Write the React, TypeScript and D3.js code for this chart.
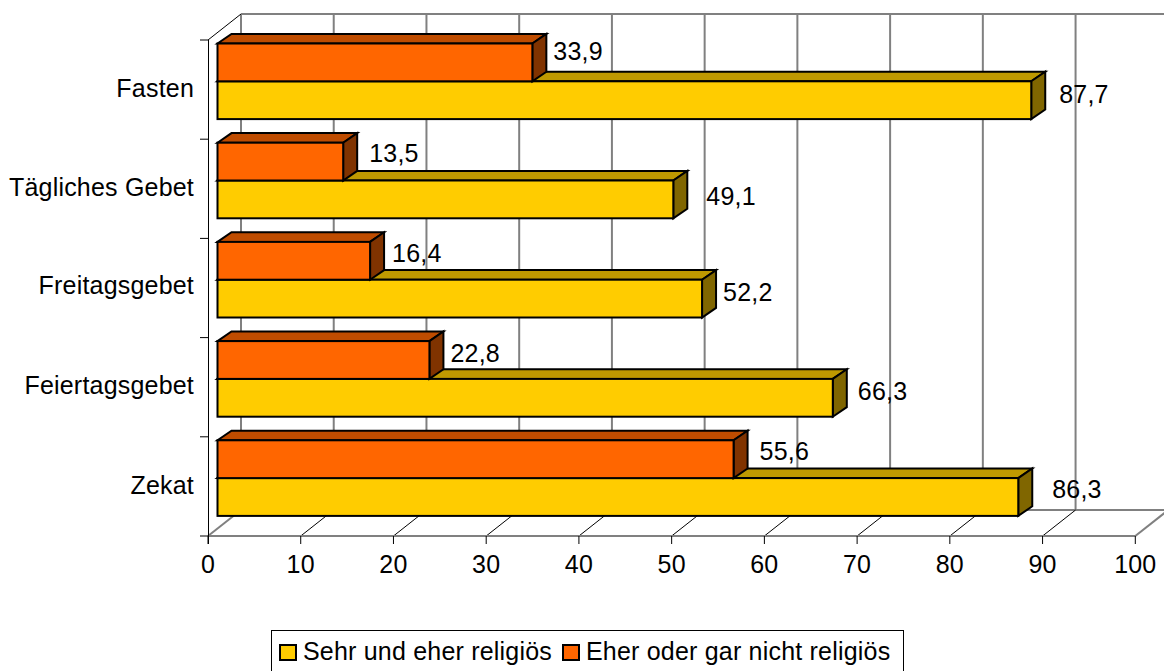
import React from "react";
import * as d3 from "d3";

const categories = ["Fasten", "Tägliches Gebet", "Freitagsgebet", "Feiertagsgebet", "Zekat"];
const seriesNames = ["Sehr und eher religiös", "Eher oder gar nicht religiös"];
const religious = [87.7, 49.1, 52.2, 66.3, 86.3];
const notReligious = [33.9, 13.5, 16.4, 22.8, 55.6];
const xTicks = [0, 10, 20, 30, 40, 50, 60, 70, 80, 90, 100];

// label placement nudges, px from the bar end and the bar top
const relLabelDx = [28, 33, 21, 25, 34];
const notLabelDx = [21, 26, 22, 21, 26];
const relLabelDy = [59.5, 62.3, 59, 59, 58];
const notLabelDy = [16.5, 19.5, 20.5, 20.5, 19.5];
const catLabelDy = [0, 0, -1.5, -1, 0];

const W = 1164, H = 671;
const FONT = "'Liberation Sans', Arial, sans-serif";
const FS = 25;
const LS = 0.2;
const x = d3.scaleLinear().domain([0, 100]).range([208, 1135.3]);
const y = d3.scaleBand().domain(categories).range([40, 536]).padding(0);
const DEPTH_X = 33, DEPTH_Y = 26;
const BAR_X = 10, BAR_Y = 3.5;
const BAR_H = 37.8, BD_X = 14, BD_Y = 9.6;

const fmt = (v: number) => String(v).replace(".", ",");
const pts = (a: number[][]) => a.map((p) => p.join(",")).join(" ");

function Bar({ v, top, fill, topFill, sideFill }: any) {
  const l = x(0) + BAR_X - 0.5;
  const r = x(v) + BAR_X;
  const b = top + BAR_H;
  return (
    <g stroke="#000" strokeWidth={2} strokeLinejoin="miter">
      <polygon points={pts([[l, top], [l + BD_X, top - BD_Y], [r + BD_X, top - BD_Y], [r, top]])} fill={topFill} />
      <polygon points={pts([[r, top], [r + BD_X, top - BD_Y], [r + BD_X, b - BD_Y], [r, b]])} fill={sideFill} />
      <rect x={l} y={top} width={r - l} height={BAR_H} fill={fill} />
    </g>
  );
}

export default function App() {
  const backBottom = 536 - DEPTH_Y;
  const backTop = 40 - DEPTH_Y;
  return (
    <svg width={W} height={H} viewBox={`0 0 ${W} ${H}`} style={{ position: "fixed", left: 0, top: 0, background: "#fff", letterSpacing: LS }}>
      {/* back wall grid */}
      {xTicks.map((t) => (
        <line key={t} x1={x(t) + DEPTH_X} x2={x(t) + DEPTH_X} y1={backTop} y2={backBottom} stroke="#808080" strokeWidth={2} />
      ))}
      <line x1={x(0) + DEPTH_X} x2={W} y1={backTop} y2={backTop} stroke="#808080" strokeWidth={2} />
      <line x1={x(0) + DEPTH_X} x2={W} y1={backBottom} y2={backBottom} stroke="#808080" strokeWidth={2} />
      {/* floor */}
      {xTicks.map((t) => (
        <line key={t} x1={x(t)} y1={536} x2={x(t) + DEPTH_X} y2={backBottom}
          stroke={t === 0 || t === 100 ? "#808080" : "#000"} strokeWidth={t === 0 || t === 100 ? 2 : 1} />
      ))}
      <line x1={x(0)} y1={40} x2={x(0) + DEPTH_X} y2={backTop} stroke="#000" strokeWidth={1} />
      <line x1={x(0)} x2={x(100)} y1={536} y2={536} stroke="#808080" strokeWidth={2} />
      <line x1={x(0) + 0.5} x2={x(0) + 0.5} y1={40} y2={544} stroke="#000" strokeWidth={1} />
      {/* ticks */}
      {xTicks.map((t) => (
        <g key={t}>
          <line x1={x(t)} x2={x(t)} y1={536} y2={544} stroke="#000" strokeWidth={1} />
          <text x={x(t)} y={572.5} textAnchor="middle" fontFamily={FONT} fontSize={FS} fill="#000">{t}</text>
        </g>
      ))}
      {[...categories, "end"].map((c, i) => {
        const ty = 40 + i * y.step();
        return <line key={c} x1={200} x2={208} y1={ty} y2={ty} stroke="#000" strokeWidth={1} />;
      })}
      {categories.map((c, i) => (
        <text key={c} x={194} y={(y(c) as number) + y.step() / 2 + 7.5 + catLabelDy[i]} textAnchor="end" fontFamily={FONT} fontSize={FS} fill="#000">{c}</text>
      ))}
      {/* bars */}
      {categories.map((c, i) => {
        const t = (y(c) as number) + BAR_Y;
        return (
          <g key={c}>
            <Bar v={religious[i]} top={t + BAR_H} fill="#FFCC00" topFill="#BF9900" sideFill="#806600" />
            <Bar v={notReligious[i]} top={t} fill="#FF6600" topFill="#BF4C00" sideFill="#803300" />
          </g>
        );
      })}
      {/* value labels */}
      {categories.map((c, i) => {
        const t = (y(c) as number) + BAR_Y;
        return (
          <g key={c} fontFamily={FONT} fontSize={FS} fill="#000">
            <text x={x(notReligious[i]) + BAR_X + notLabelDx[i]} y={t + notLabelDy[i]}>{fmt(notReligious[i])}</text>
            <text x={x(religious[i]) + BAR_X + relLabelDx[i]} y={t + relLabelDy[i]}>{fmt(religious[i])}</text>
          </g>
        );
      })}
      {/* legend */}
      <rect x={271.5} y={630.5} width={632} height={42} fill="#fff" stroke="#000" strokeWidth={1} />
      <rect x={280} y={645} width={16} height={15} fill="#FFCC00" stroke="#000" strokeWidth={2} />
      <text x={303} y={660} fontFamily={FONT} fontSize={FS} fill="#000">{seriesNames[0]}</text>
      <rect x={563} y={645} width={16} height={15} fill="#FF6600" stroke="#000" strokeWidth={2} />
      <text x={586} y={660} fontFamily={FONT} fontSize={FS} fill="#000">{seriesNames[1]}</text>
    </svg>
  );
}
